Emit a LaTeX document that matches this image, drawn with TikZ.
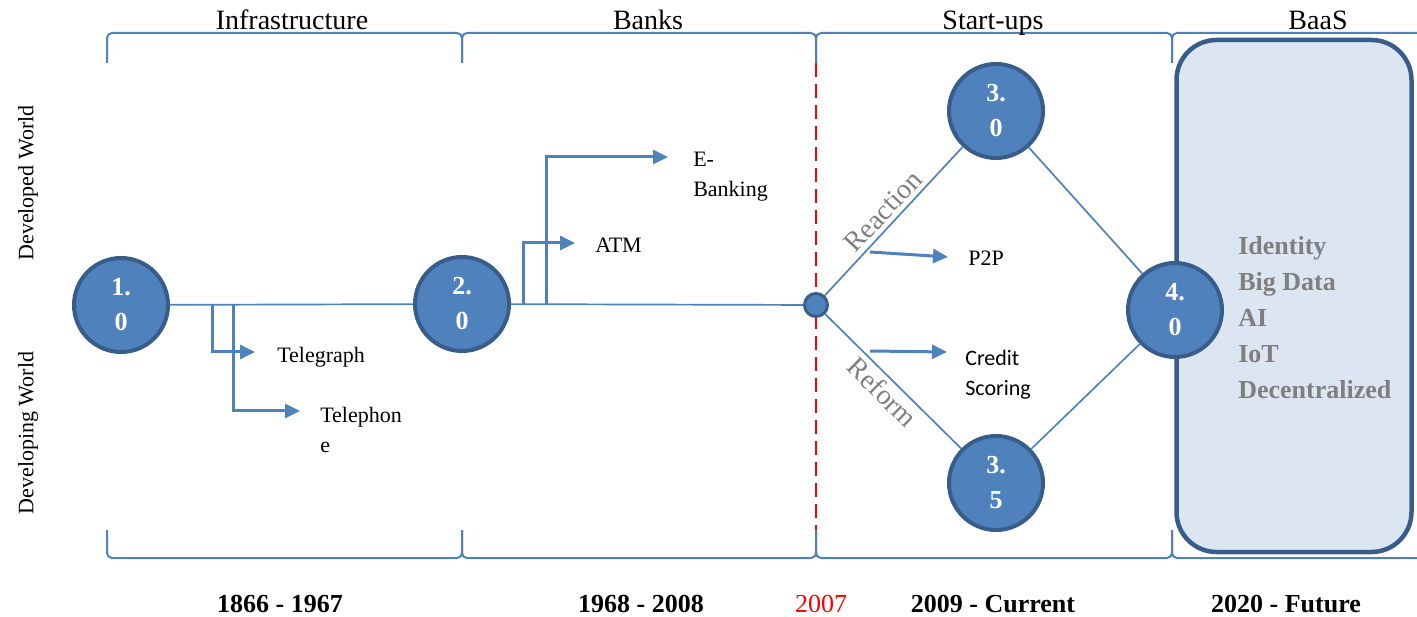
\documentclass[tikz,border=0pt]{standalone}
\usepackage{fontspec}
\setmainfont{Liberation Serif}
\newfontfamily\calibri{Carlito}
\usepackage{xcolor}
\usetikzlibrary{arrows.meta}
\definecolor{nodeblue}{RGB}{79,129,189}
\definecolor{nodeedge}{RGB}{56,93,138}
\definecolor{boxfill}{RGB}{220,230,242}
\definecolor{labelgray}{RGB}{127,127,127}

\begin{document}
\begin{tikzpicture}[x=1pt,y=-1pt,>={Triangle[length=15pt,width=14pt]},semithick]
    \tikzstyle{stage}=[circle, draw=nodeedge, fill=nodeblue, line width=4pt, minimum size=94pt, inner sep=0pt, text=white, font=\fontsize{26}{35}\selectfont\bfseries, align=center]
    \tikzstyle{hub}=[circle, draw=nodeedge, fill=nodeblue, line width=3pt, minimum size=23pt, inner sep=0pt]
    \tikzstyle{link}=[draw=nodeblue, line width=1.7pt]
    \tikzstyle{branch}=[draw=nodeblue, line width=3pt, ->]
    \tikzstyle{brace}=[draw=nodeblue, line width=2pt, rounded corners=5pt]
    \tikzstyle{tag}=[font=\fontsize{22}{30}\selectfont, align=left, inner sep=0pt]
    \tikzstyle{era}=[font=\fontsize{28}{34}\selectfont, anchor=base]
    \tikzstyle{period}=[font=\fontsize{26}{32}\selectfont\bfseries, anchor=base]
    \tikzstyle{world}=[font=\fontsize{22}{26}\selectfont, rotate=90]
    \tikzstyle{drift}=[font=\fontsize{28}{34}\selectfont, text=labelgray, sloped]
    \tikzstyle{tech}=[font=\fontsize{26}{36}\selectfont\bfseries, text=labelgray, align=left, inner sep=0pt]
    \useasboundingbox (0,0) rectangle (1417,617);

    % period brackets
    \draw[brace] (107,63) |- (462,33) -- (462,63);
    \draw[brace] (462,63) |- (816,33) -- (816,63);
    \draw[brace] (816,63) |- (1172,33) -- (1172,63);
    \draw[brace] (1172,63) |- (1417,33);
    \draw[brace] (107,530) |- (462,558) -- (462,530);
    \draw[brace] (462,530) |- (816,558) -- (816,530);
    \draw[brace] (816,530) |- (1172,558) -- (1172,530);
    \draw[brace] (1172,530) |- (1417,558);
    \draw[red, line width=2pt, dash pattern=on 14pt off 7pt] (816,63) -- (816,530);

    \node[era] (infra) at (292,30) {Infrastructure};
    \node[era] (banks) at (648,30) {Banks};
    \node[era] (start) at (993,30) {Start-ups};
    \node[era] (baas) at (1318,30) {BaaS};
    \node[period] (p1) at (280,612) {1866 - 1967};
    \node[period] (p2) at (641,612) {1968 - 2008};
    \node[period, font=\fontsize{26}{32}\selectfont, text=red] (p0) at (821,612) {2007};
    \node[period] (p3) at (993,612) {2009 - Current};
    \node[period] (p4) at (1286,612) {2020 - Future};
    \node[world] (dev) at (28,183) {Developed World};
    \node[world] (devg) at (28,433) {Developing World};

    \node[draw=nodeedge, fill=boxfill, line width=4.5pt, rounded corners=40pt, minimum width=235pt, minimum height=512pt] (future) at (1294,296) {};
    \node[tech, anchor=north west] (trends) at (1238,236) {Identity\\Big Data\\AI\\IoT\\Decentralized};

    \node[stage] (s1) at (121,305) {1.\\0};
    \node[stage] (s2) at (462,304) {2.\\0};
    \node[hub] (jn) at (816,305) {};
    \node[stage] (s3) at (996,111) {3.\\0};
    \node[stage] (s35) at (996,483) {3.\\5};
    \node[stage] (s4) at (1175,310) {4.\\0};

    \draw[link] (s1) -- (s2);
    \draw[link] (s2) -- (jn);
    \draw[link] (jn) -- node[drift, above=1pt] {Reaction} (s3);
    \draw[link] (jn) -- node[drift, below=1pt] {Reform} (s35);
    \draw[link] (s3) -- (s4);
    \draw[link] (s35) -- (s4);

    \node[tag, anchor=base west] (tg) at (277,363) {\rmfamily Telegraph};
    \node[tag, anchor=north west] (tp) at (320,407) {\rmfamily Telephon\\\rmfamily e};
    \node[tag, anchor=base west] (atm) at (595,253) {\rmfamily ATM};
    \node[tag, anchor=north west] (eb) at (693,152) {\rmfamily E-\\\rmfamily Banking};
    \node[tag, anchor=base west] (p2p) at (968,266) {\rmfamily P2P};
    \node[tag, anchor=north west] (cs) at (965,350) {\calibri Credit\\\calibri Scoring};

    \coordinate (tgb) at (212,305);
    \coordinate (tpb) at (233,305);
    \coordinate (atmb) at (523,304);
    \coordinate (ebb) at (546,304);
    \coordinate (p2pb) at (870,252);
    \coordinate (csb) at (870,351);
    \draw[branch] (tgb) |- ([xshift=-22pt,yshift=11pt]tg.base west);
    \draw[branch] (tpb) |- ([xshift=-20pt,yshift=-4pt]tp.north west);
    \draw[branch] (atmb) |- ([xshift=-20pt,yshift=10pt]atm.base west);
    \draw[branch] (ebb) |- ([xshift=-25pt,yshift=-5pt]eb.north west);
    \draw[branch] (p2pb) -- ([xshift=-20pt,yshift=9pt]p2p.base west);
    \draw[branch] (csb) -- ([xshift=-18pt,yshift=-2pt]cs.north west);
\end{tikzpicture}
\end{document}
